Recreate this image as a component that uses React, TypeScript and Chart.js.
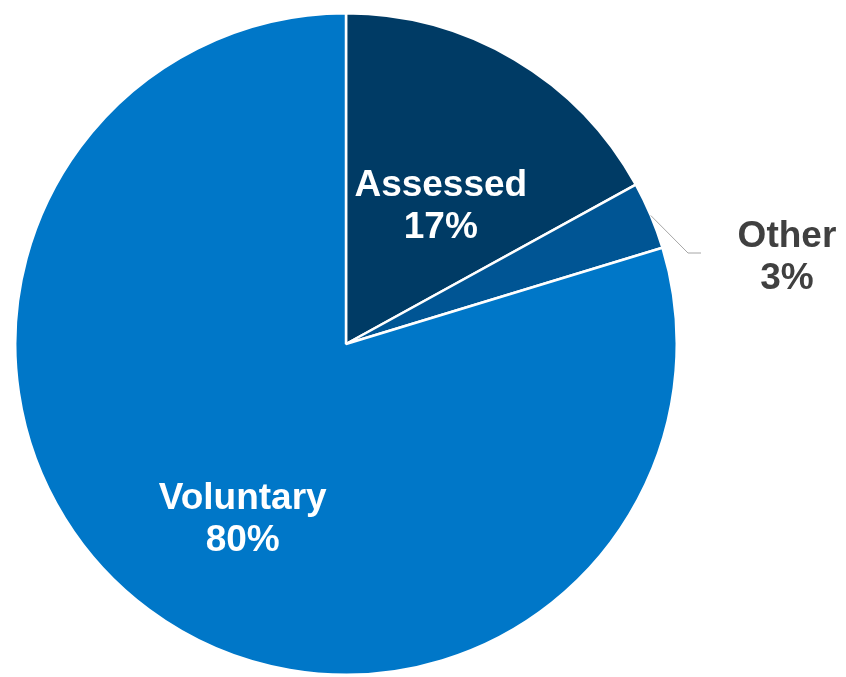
import React, { useEffect, useRef } from "react";
import { Chart, registerables } from "chart.js";

Chart.register(...registerables);

const categories = ["Assessed", "Other", "Voluntary"];
const values = [17.0, 3.3, 79.7];
const percentLabels = ["17%", "3%", "80%"];
const colors = ["#003b65", "#005594", "#0077c8"];
const labelColors = ["#ffffff", "#404040", "#ffffff"];
// label placement: angle (deg clockwise from top) and radius fraction
const labelAngles = [34.2, 78.6, 210.8];
const labelRadii = [0.51, 1.36, 0.61];
const outsideLabel = [false, true, false];

const labelPlugin = {
  id: "pieLabels",
  afterDatasetsDraw(chart: any) {
    const ctx = chart.ctx;
    const meta = chart.getDatasetMeta(0);
    ctx.save();
    ctx.font = "bold 37px 'Liberation Sans', Arial, sans-serif";
    ctx.textAlign = "center";
    ctx.textBaseline = "alphabetic";
    meta.data.forEach((arc: any, i: number) => {
      const { x, y, outerRadius, startAngle, endAngle } = arc.getProps(
        ["x", "y", "outerRadius", "startAngle", "endAngle"],
        true
      );
      const a = (labelAngles[i] * Math.PI) / 180;
      const lx = x + Math.sin(a) * outerRadius * labelRadii[i];
      const ly = y - Math.cos(a) * outerRadius * labelRadii[i];
      if (outsideLabel[i]) {
        const mid = (startAngle + endAngle) / 2;
        const sx = x + Math.cos(mid) * outerRadius;
        const sy = y + Math.sin(mid) * outerRadius;
        const ea = (75.1 * Math.PI) / 180;
        const ex = x + Math.sin(ea) * outerRadius * 1.07;
        const ey = y - Math.cos(ea) * outerRadius * 1.07;
        ctx.strokeStyle = "#a6a6a6";
        ctx.lineWidth = 1;
        ctx.beginPath();
        ctx.moveTo(sx, sy);
        ctx.lineTo(ex, ey);
        ctx.lineTo(ex + 13, ey);
        ctx.stroke();
      }
      ctx.fillStyle = labelColors[i];
      ctx.fillText(categories[i], lx, ly - 8);
      ctx.fillText(percentLabels[i], lx, ly + 34);
    });
    ctx.restore();
  },
};

export default function App() {
  const ref = useRef<HTMLCanvasElement>(null);
  useEffect(() => {
    if (!ref.current) return;
    const chart = new Chart(ref.current, {
      type: "pie",
      data: {
        labels: categories,
        datasets: [
          {
            data: values,
            backgroundColor: colors,
            borderColor: "#ffffff",
            borderWidth: 2.5,
          },
        ],
      },
      options: {
        animation: false,
        responsive: false,
        maintainAspectRatio: false,
        layout: { padding: { top: 12, bottom: 1, left: 14, right: 168 } },
        plugins: {
          legend: { display: false },
          tooltip: { enabled: false },
        },
      },
      plugins: [labelPlugin],
    });
    return () => chart.destroy();
  }, []);
  return (
    <div style={{ position: "fixed", left: 0, top: 0, width: 846, height: 677, background: "#fff" }}>
      <canvas ref={ref} width={846} height={677} style={{ width: 846, height: 677 }} />
    </div>
  );
}
